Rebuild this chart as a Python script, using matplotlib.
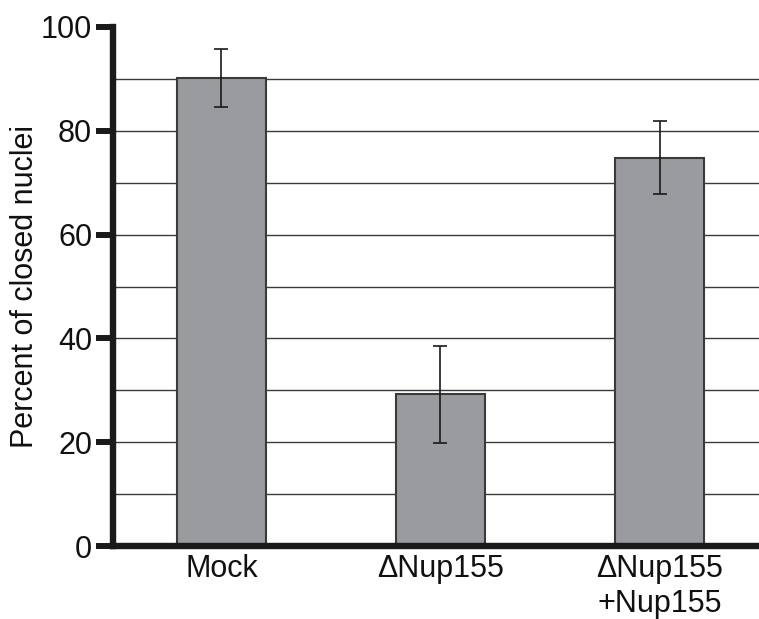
import matplotlib
matplotlib.use("Agg")
import matplotlib.pyplot as plt
import numpy as np

plt.rcParams['font.family'] = ['Liberation Sans', 'DejaVu Sans']

categories = ["Mock", "\u0394Nup155", "\u0394Nup155\n+Nup155"]
values = [90.2, 29.2, 74.8]
errors = [5.6, 9.3, 7.0]
yticks = [0, 20, 40, 60, 80, 100]
grid_levels = [10, 20, 30, 40, 50, 60, 70, 80, 90]

fig = plt.figure(figsize=(7.59, 6.19), dpi=100)
ax = fig.add_axes([113/759, 1-546/619, 1-113/759, (546-27)/619])

x = np.arange(len(categories))
for g in grid_levels:
    ax.axhline(g, color='#3a3a3a', lw=1.0, zorder=0)

ax.bar(x, values, width=0.405, color='#9a9b9e', edgecolor='#3a3a3a', linewidth=1.5, zorder=2)
ax.errorbar(x, values, yerr=errors, fmt='none', ecolor='#1a1a1a', elinewidth=1.2,
            capsize=4.7, capthick=1.2, zorder=3)

ax.set_xlim(-0.495, 2.454)
ax.set_ylim(0, 100)
ax.set_xticks(x)
ax.set_xticklabels(categories, fontsize=22, color='#111111', linespacing=1.2,
                   va='top')
ax.set_yticks(yticks)
ax.set_yticklabels([str(t) for t in yticks], fontsize=22, color='#111111')
ax.tick_params(axis='x', length=0, pad=6)
ax.tick_params(axis='y', direction='out', length=12, width=4.3, color='#1a1a1a', pad=3)
ax.set_ylabel("Percent of closed nuclei", fontsize=22, color='#111111', labelpad=1)

for s in ['top', 'right']:
    ax.spines[s].set_visible(False)
for s in ['left', 'bottom']:
    ax.spines[s].set_linewidth(4.6)
    ax.spines[s].set_color('#1a1a1a')
    ax.spines[s].set_zorder(4)
ax.spines['left'].set_capstyle('projecting')

fig.savefig("out.png", dpi=100)
